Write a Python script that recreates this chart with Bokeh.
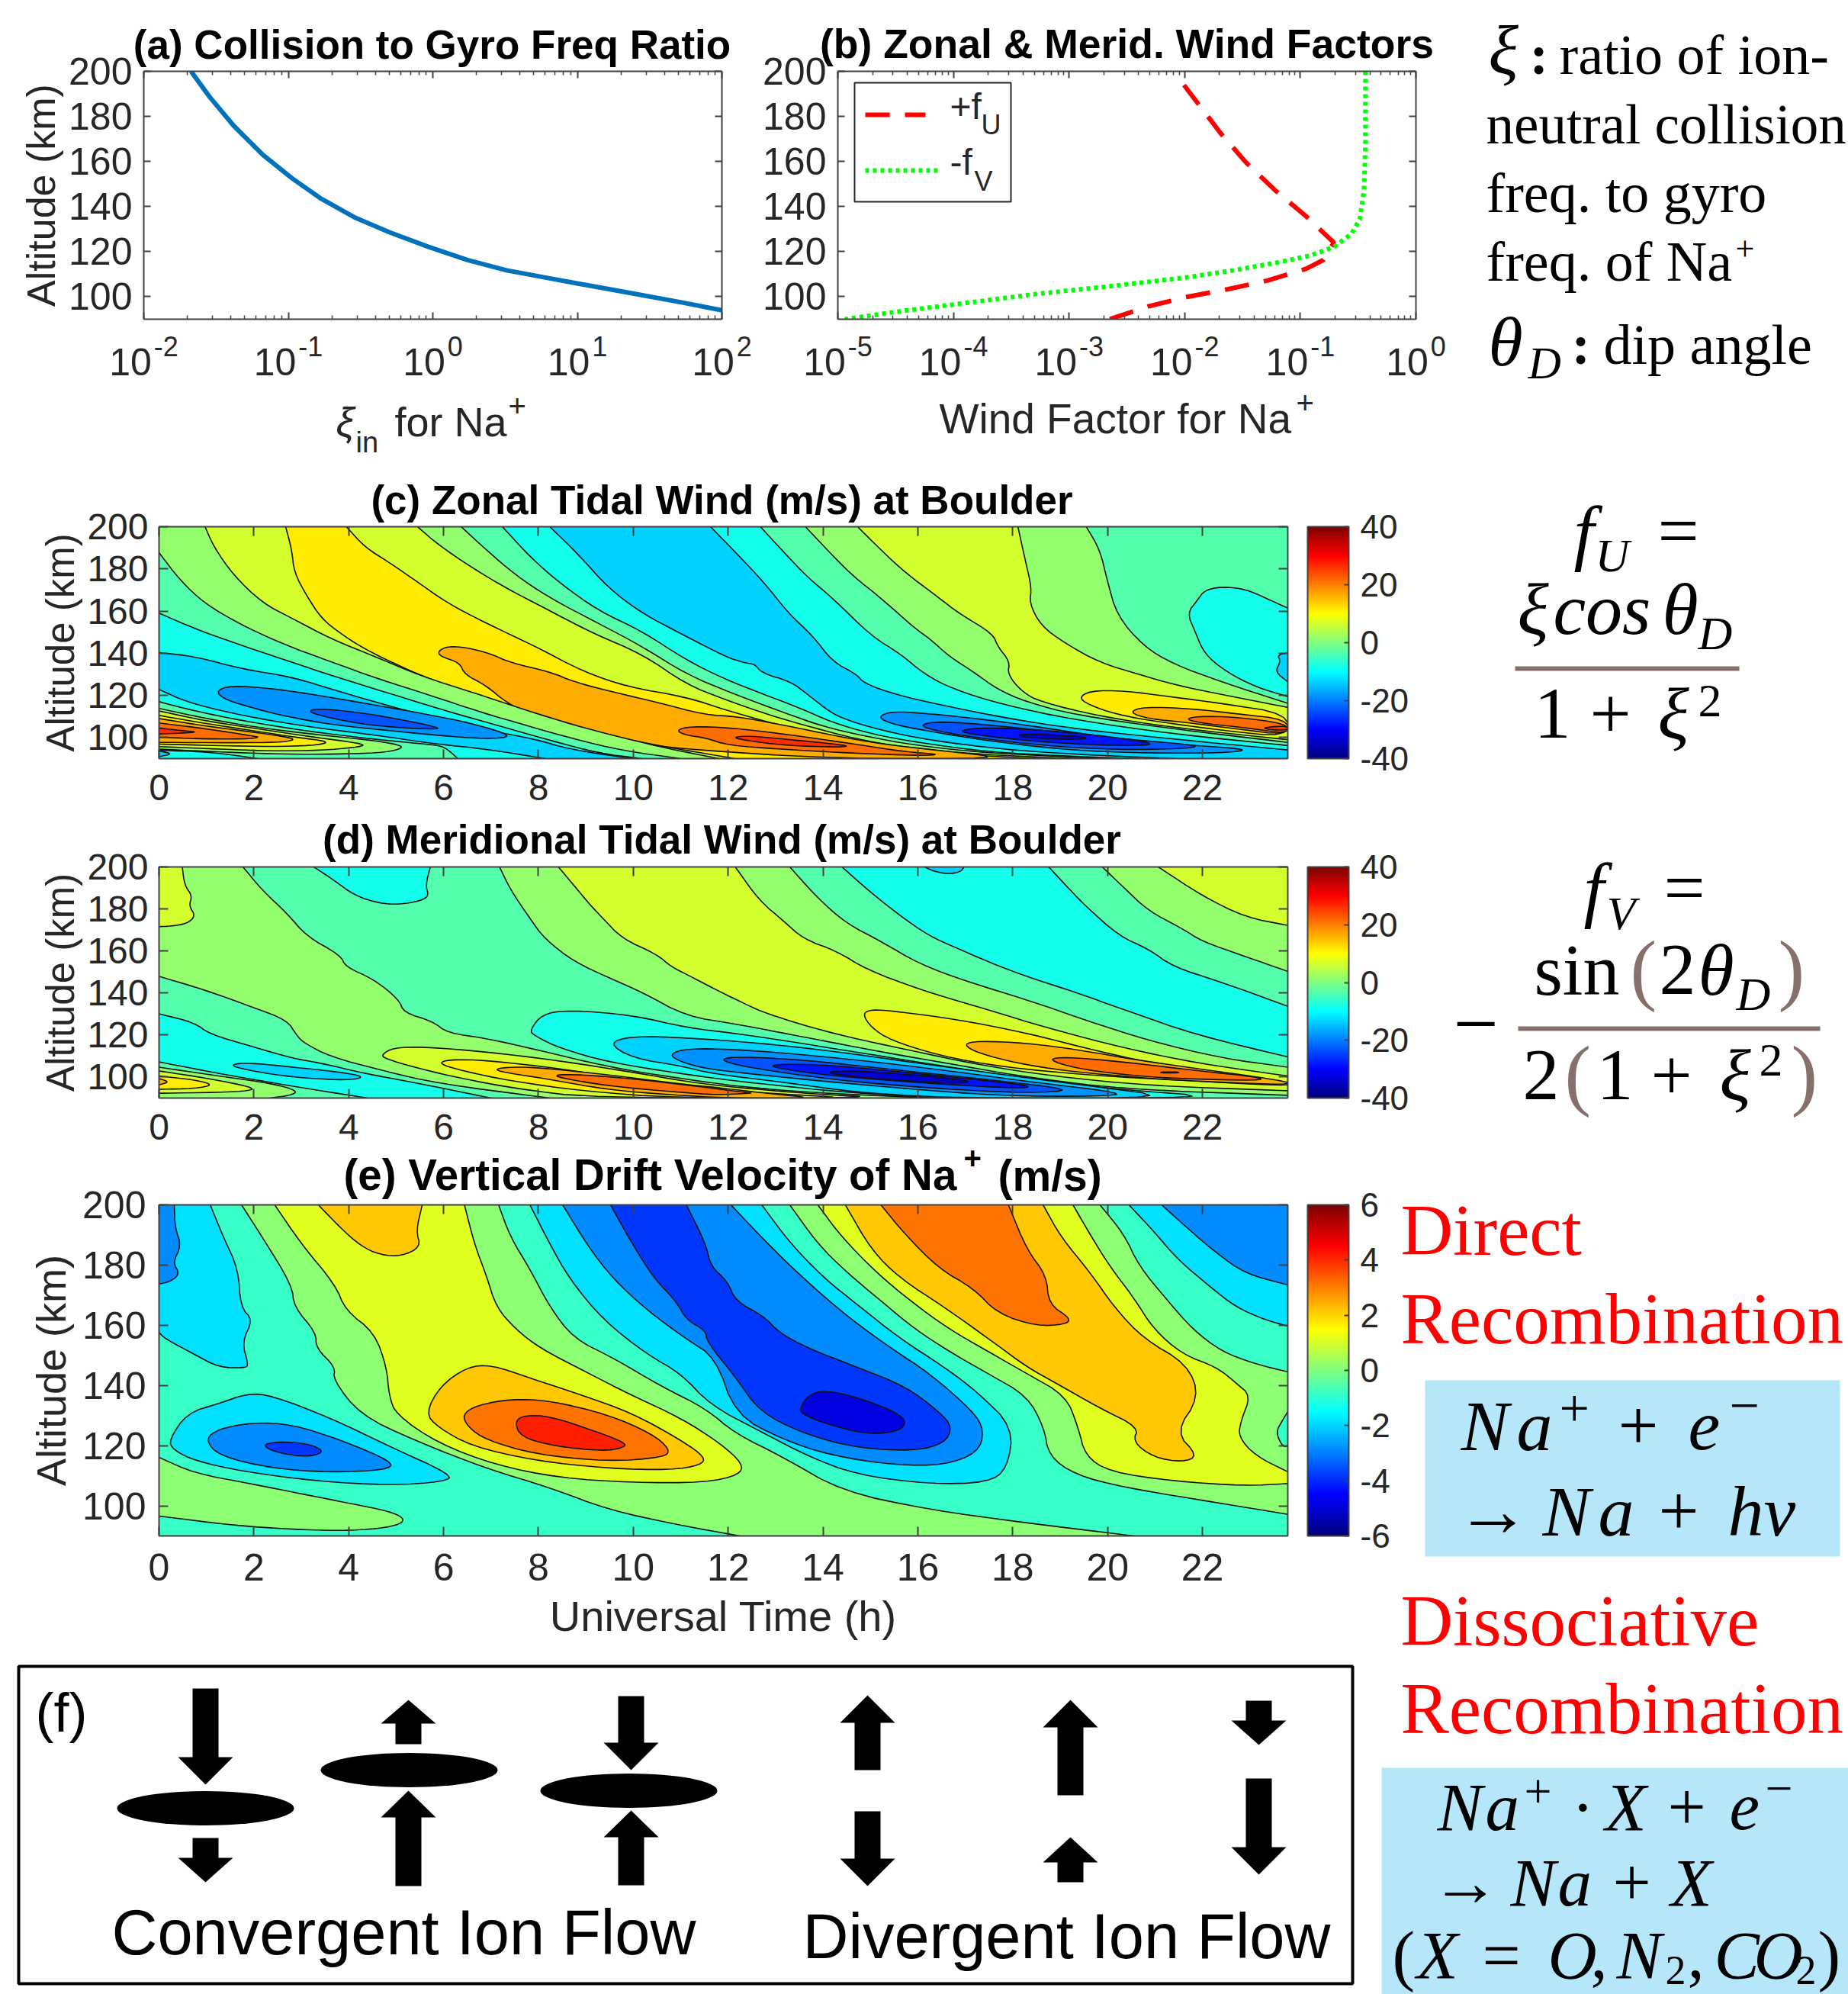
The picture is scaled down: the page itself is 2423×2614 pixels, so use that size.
from bokeh.embed import file_html
from bokeh.resources import INLINE
from bokeh.plotting import figure
from bokeh.layouts import row, column
from bokeh.core.properties import value
from bokeh.models import (Range1d, FixedTicker, LinearAxis, LogAxis, ColorBar,
                          LinearColorMapper, GridBox)

# ---------- data: panels (a), (b) ----------
xi_log10 = [-1.673,-1.545,-1.377,-1.175,-0.973,-0.771,-0.535,-0.3,-0.03,0.24,0.51,0.78,1.05,1.385,1.72,2.0]
xi_alt   = [200,188.7,175.8,162.9,152.5,143.4,135,128.6,122.1,116.3,111.7,108.5,105.3,101.4,97.5,94]
fu_log10 = [-2.006,-1.69,-1.47,-1.22,-0.95,-0.71,-0.80,-0.95,-1.28,-1.63,-1.99,-2.32,-2.65]
fu_alt   = [193.9,172.6,159.6,147.3,135.7,124,116.3,112.4,107.2,103.3,99.8,95.6,90]
fv_log10 = [-0.437,-0.437,-0.449,-0.485,-0.557,-0.707,-0.916,-1.216,-1.575,-1.994,-2.653,-3.25,-3.85,-4.45,-4.94]
fv_alt   = [200,166.7,147.3,134.4,127.9,122.1,118.2,115,111.7,108.5,104.6,101.4,97.5,93.6,90]
alt_ticks = [100,120,140,160,180,200]
hour_ticks = [0,2,4,6,8,10,12,14,16,18,20,22]

# ---------- data: iso-lines (c), (d), (e): hours, km ----------
# band centre values in m/s
NAVY,DEEP,BLUE,MID,SKY,CYAN,SPRG,GRN,YG,YEL,ORG,DK,RED = -32.5,-27.5,-22.5,-17.5,-12.5,-7.5,-2.5,2.5,7.5,12.5,17.5,22.5,27.5
ALL=[(23.8,90),(0,90),(0,200)]; LFT=[(0,90),(0,200)]; BL=[(0,90)]; TL=[(0,200)]

c_background = SPRG
c_contours = [
 (CYAN,[(23.8,161.4),(23.33,166.2),(22.91,170.4),(22.4,171.6),(22.04,169.8),(21.89,165),(21.68,159),(21.84,150.5),(22.04,139.7),(22.5,131.2),(23.12,124),(23.8,119.4)],[]),
 (SKY,[(23.8,140.3),(23.58,139.1),(23.65,136.1),(23.53,131.2),(23.8,126.4)],[]),
 (GRN,[(19.55,200),(19.84,189),(19.99,174.7),(20.2,157.8),(20.76,143.3),(21.38,134.9),(22.4,126.4),(23.8,116.2)],ALL),
 (YG,[(18.11,200),(18.25,185.5),(18.4,171),(18.35,163.8),(18.6,152.9),(19.12,144.5),(19.84,135.5),(20.66,130),(21.38,125.2),(22.4,120.4),(23.8,114.3)],ALL),
 (YEL,[(19.38,118.6),(19.63,122.2),(20.35,122.2),(21.38,119.2),(22.4,116.2),(23.8,111.3),(23.8,100.1),(22.4,103.5),(21.38,106.5),(20.35,110.1),(19.73,114.3)],[]),
 (ORG,[(20.45,112),(20.76,114.6),(21.78,113.7),(22.71,111.3),(23.8,108.6),(23.8,101.1),(22.71,104.1),(21.68,107.1),(20.86,108.9)],[]),
 (DK,[(21.63,108.6),(21.89,110.1),(22.71,109.8),(23.8,106.5),(23.8,101.7),(22.91,104.7),(22.09,106.5)],[]),
 (RED,[(23.27,104.5),(23.53,105.3),(23.8,105.3),(23.8,103.5),(23.43,103.7)],[]),
 (GRN,[(14.73,200),(15.22,189),(15.73,178.3),(16.45,166.2),(16.86,159),(17.58,149.3),(17.68,143.3),(17.94,136),(17.89,130),(18.2,121.6),(18.6,116.8),(19.84,110.1),(21.38,104.7),(23.8,99)],ALL),
 (SPRG,[(13.63,200),(14.09,189),(14.61,177),(15.22,166.2),(15.94,151.7),(16.25,146.9),(16.66,138.5),(17.17,131.2),(17.68,122.8),(18.3,116.8),(19.32,110.7),(21.38,104.1),(23.8,97.7)],ALL),
 (CYAN,[(12.68,200),(13.17,188),(13.68,175.9),(14.2,166.2),(15.02,148.1),(15.63,139.7),(16.14,130),(16.76,122.8),(17.79,115.6),(19.32,108.3),(21.38,101.7),(23.8,96.2)],ALL),
 (SKY,[(11.63,200),(12.15,188),(12.76,173.5),(13.27,159),(13.79,148.1),(14.2,136),(14.71,130),(14.86,125.8),(15.53,120.4),(16.45,115.6),(17.79,109.5),(19.32,104.1),(21.38,99.3),(23.8,94.1)],ALL),
 (MID,[(15.14,109.5),(15.43,112.5),(16.25,111.3),(17.27,108.9),(18.3,105.9),(19.84,100.5),(21.38,96.9),(23.07,94.4),(22.4,92.6),(20.86,92.6),(19.32,93.8),(17.79,97.5),(16.56,101.7),(15.53,105.9)],[]),
 (BLUE,[(15.99,105.3),(16.35,107.7),(17.27,106.5),(18.81,102.9),(20.35,99.3),(22.09,96),(21.38,94.4),(19.84,94.4),(18.3,96.9),(16.86,101.1)],[]),
 (DEEP,[(16.81,102.9),(17.27,104.7),(18.3,104.1),(19.84,101.1),(21.12,96.9),(20.35,96),(18.81,97.5),(17.48,100.5)],[]),
 (NAVY,[(18.09,102),(19.58,100.5),(19.48,98.9),(18.2,99.9)],[]),
 (CYAN,[(8.24,200),(8.85,186.7),(9.47,171),(10.18,159),(11,149.3),(11.93,138.5),(12.34,135.4),(12.56,134.9),(12.71,130.6),(13.33,126.4),(13.68,120.4),(14.15,112),(14.5,108.3),(15.22,103.5),(16.25,98.7),(17.79,94.4),(19.32,92),(21.48,90)],LFT),
 (SPRG,[(7.24,200),(7.83,185.5),(8.44,173.5),(9.26,160.2),(10.18,150.5),(11.12,136.7),(11.94,127.6),(12.76,120.4),(13.48,114.3),(14.2,107.1),(15.02,101.7),(16.04,97.5),(17.48,93.2),(19.12,91.2),(20.66,90)],LFT),
 (GRN,[(6.37,200),(6.9,189),(7.52,177),(8.24,166.2),(9.26,154.2),(10.18,143.3),(11.12,130),(12.15,120.4),(13.17,111.9),(13.99,105.3),(14.91,100.5),(15.94,96.3),(17.48,92.6),(19.94,90)],LFT),
 (YG,[(5.45,200),(5.88,191.6),(6.59,180.7),(7.31,171),(8.13,161.4),(9.16,149.3),(10.18,139.7),(11.12,125.2),(11.94,118),(12.86,110.7),(13.79,104.7),(14.71,99.3),(15.73,95.3),(17.27,92),(19.32,90)],LFT),
 (YEL,[(3.95,200),(4.34,190.3),(4.85,183.1),(5.47,173.5),(6.08,163.8),(6.9,154.2),(7.93,143.3),(8.95,131.2),(9.88,124),(11.12,119.2),(11.94,113.1),(12.97,106.5),(13.99,101.1),(15.22,95.6),(16.76,92),(18.6,90)],LFT),
 (ORG,[(5.88,140.9),(6.08,143.3),(6.49,142.7),(7,139.7),(7.41,135.5),(8.24,131.2),(8.75,126.4),(9.57,121.6),(10.49,116.8),(11.52,110.7),(12.15,110.1),(13.17,105.9),(14.2,101.1),(15.22,96.9),(16.45,93.9),(17.99,90),(14.2,90),(11.12,94.4),(9.98,97.5),(8.95,103.6),(7.93,109.5),(7.31,116.8),(6.9,124.6),(6.44,130),(6.34,135.5),(5.93,138.5)],[]),
 (DK,[(10.9,103.5),(11.21,105.3),(12.03,104.7),(13.17,101.7),(14.5,97.5),(15.73,93.2),(16.5,92),(16.04,91.4),(14.6,92.6),(13.17,94.4),(11.99,96.3),(11.52,99.9),(11.1,101.1)],[]),
 (RED,[(12.09,100.2),(12.45,100.8),(13.17,99.3),(14.55,96.3),(14.4,95.3),(13.17,96.3),(12.35,98.7)],[]),
 (YG,[(2.67,200),(2.8,189),(2.85,178.3),(3.11,167.4),(3.42,156.6),(3.83,149.3),(4.24,143.3),(4.75,137.3),(5.47,130),(6.39,121.6),(7.52,114.3),(8.44,107.1),(9.47,101.1),(10.49,96.3),(11.31,93.2),(12.15,90)],LFT),
 (GRN,[(0.97,200),(1.16,190.3),(1.57,177),(2.18,163.8),(2.8,156.6),(3.62,146.9),(4.54,138.5),(5.57,128.8),(6.59,121.6),(7.72,113.1),(8.75,105.9),(9.77,99.9),(10.8,94.4),(11.82,90)],LFT),
 (SPRG,[(0,187.7),(0.44,174.7),(0.95,163.8),(1.67,154.2),(2.59,144.5),(3.62,136),(4.65,127.6),(5.67,120.4),(6.8,111.9),(7.72,105.9),(8.75,99.3),(9.77,93.8),(11,90)],BL),
 (CYAN,[(0,159),(0.75,151.7),(1.57,145),(2.59,137.3),(3.72,128.8),(4.85,121),(5.98,113.1),(7.11,105.9),(8.24,98.7),(9.26,92.6),(10.18,90)],BL),
 (SKY,[(0,140.3),(0.75,138.5),(1.77,132.4),(2.8,128.8),(3.83,121.6),(4.85,115),(5.88,108.9),(6.9,103.5),(7.93,99.3),(8.65,94.4),(9.98,90)],BL),
 (MID,[(1.21,122.2),(1.5,124.6),(2.36,123.4),(3.43,119.8),(4.5,115.6),(5.57,111.4),(6.65,106.5),(7.5,100.5),(6.91,99.3),(5.84,101.1),(4.77,103.5),(3.7,105.9),(2.63,110.2),(1.82,115),(1.34,118.6)],[]),
 (BLUE,[(3.13,112.6),(3.38,113.8),(4.23,111.9),(5.31,107.7),(5.9,104.7),(5.84,103.9),(5.04,104.7),(4.23,106.5),(3.43,110.2)],[]),
 (CYAN,[(0,122.8),(0.59,116.8),(1.55,111.4),(2.63,106.9),(3.7,103.5),(4.77,100.5),(5.84,96.9),(6.91,94.5),(8.15,90)],BL),
 (SPRG,[(0,117),(0.75,112.6),(1.82,107.7),(3.16,102.9),(4.5,99.3),(5.31,97.5),(5.9,96.3),(6.08,94.5),(6.3,90)],BL),
 (CYAN,[(0,93.9),(1.02,93.3),(2.09,90)],BL),
 (SKY,[(0,93.6),(0.29,92.3),(0,90.9)],[]),
 (GRN,[(0,113.8),(1.02,108.9),(2.09,104.7),(3.43,101.1),(4.5,98.7),(5.12,96.3),(5.09,94.5),(4.66,92.7),(3.7,92.1),(2.63,92.1),(1.55,92.9),(0,94.5)],[]),
 (YG,[(0,112.6),(1.02,107.7),(2.09,104.1),(3.16,100.5),(3.97,98.1),(4.37,96.5),(4.13,95.3),(3.43,93.9),(2.36,93.6),(1.29,94.5),(0,95.7)],[]),
 (YEL,[(0,110.5),(1.02,106.5),(2.09,102.9),(2.89,100.1),(3.59,98.1),(3.38,96.5),(2.63,95.7),(1.55,96),(0,96.9)],[]),
 (ORG,[(0,109),(1.02,105.3),(2.09,102.3),(2.79,99.9),(2.84,98.7),(2.52,97.7),(1.55,97.5),(0,97.7)],[]),
 (DK,[(0,106.9),(1.02,104.1),(1.93,100.9),(2.14,100.1),(1.82,99.3),(1.02,99.3),(0,100.1)],[]),
 (RED,[(0,104.5),(0.48,103.3),(0.83,102.6),(0.48,102.1),(0,101.7)],[]),
]

d_background = YG
d_contours = [
 (GRN,[(21.07,200),(21.99,186.3),(22.91,176),(23.8,172.2)],ALL),
 (SPRG,[(19.89,200),(20.35,190),(20.86,179.1),(21.58,170.6),(21.99,164.6),(22.91,157.3),(23.8,150.3)],ALL),
 (CYAN,[(18.76,200),(19.12,191.2),(19.53,181.5),(20.25,167),(20.86,161),(21.38,152.5),(22.4,145.2),(23.8,133.7)],ALL),
 (SKY,[(16.14,200),(16.35,197.8),(16.66,196.6),(16.91,197.8),(16.97,200)],[]),
 (SPRG,[(14.4,200),(15.02,187.6),(15.63,176.7),(16.25,167),(16.86,161),(17.48,154.9),(18.3,147.7),(19.32,140.4),(20.35,132),(21.89,119.9),(23.8,109.6)],ALL),
 (GRN,[(13.3,200),(13.89,185.1),(14.5,173),(15.22,164.6),(16.04,153.7),(17.07,145.2),(18.3,136.8),(19.53,127.1),(20.86,117.4),(22.4,109),(23.8,104.7)],ALL),
 (YG,[(12.15,200),(12.66,183.9),(13.17,174.3),(13.58,165.8),(14.3,159.8),(14.91,151.3),(16.04,141.6),(17.48,132),(18.71,123.5),(20.35,113.8),(21.89,106.6),(23.8,100.5)],ALL),
 (YEL,[(14.83,130.1),(15.02,132.2),(15.53,131.3),(16.76,127.7),(18.3,121),(19.84,112),(21.38,104.7),(23.8,97.5),(23.8,95.7),(21.38,98.7),(19.84,100.5),(17.79,104.7),(16.45,110.2),(15.43,117.5),(15.02,123.5)],[]),
 (ORG,[(16.95,115.6),(17.27,117.2),(18.3,116.2),(19.32,113.2),(20.86,107.2),(23.8,98.1),(23.8,96.3),(22.4,97.5),(20.86,99.3),(19.12,102.9),(18.09,106.6),(17.27,111.4)],[]),
 (DK,[(18.73,108.4),(19.12,109.6),(20.35,107.2),(21.89,103),(23.22,99.9),(23.24,98.3),(21.38,99.3),(20.35,101.1),(19.32,104.2)],[]),
 (RED,[(21.12,102.4),(21.5,102.4),(21.5,102),(21.12,102)],[]),
 (GRN,[(8.42,200),(8.75,191.2),(9.06,182.7),(9.36,175.5),(9.77,165.8),(10.49,158.5),(10.8,152.5),(11.12,148.9),(11.74,141.6),(12.45,133.8),(12.76,130.7),(13.58,124.7),(14.5,119.2),(15.73,113.2),(17.27,105.9),(18.81,100.5),(20.86,95.9),(23.8,93.5)],ALL),
 (SPRG,[(7.18,200),(7.42,188.8),(7.82,175.5),(8.13,165.8),(8.75,154.9),(9.57,146.4),(10.18,140.4),(11.12,128.9),(12.15,125.3),(13.68,118.7),(15.22,112),(16.76,106),(18.3,99.9),(20.35,94.2),(23.8,91.3)],ALL),
 (CYAN,[(3.26,200),(3.62,194.8),(4.13,186.3),(4.65,182.7),(5.06,182.1),(5.52,183.9),(5.69,186.3),(5.62,191.2),(5.72,200)],[]),
 (CYAN,[(7.82,122.3),(8.08,130),(8.65,131.9),(9.98,129.5),(11.12,123.5),(12.15,120.8),(13.17,117.4),(14.71,111.8),(16.25,106.3),(17.79,100.9),(19.84,94.8),(22.71,90),(16.45,90),(15.73,90.9),(14.2,93.3),(13.17,95.7),(12.15,98.1),(11,101.6),(9.47,107.1),(8.44,113.8),(7.9,119.9)],[]),
 (SKY,[(9.47,116.2),(9.98,119.5),(11.12,118.7),(12.66,116.2),(14.2,112.4),(15.73,107.5),(17.27,102.7),(19.32,96.7),(21.58,90),(17.27,90),(16.04,90.9),(14.71,92.7),(13.17,97.5),(11.63,101.7),(11,105.3),(9.98,109)],[]),
 (MID,[(10.75,110.8),(11.12,113.6),(12.15,113.2),(13.68,110.5),(15.22,106.9),(16.76,102.7),(18.3,97.9),(20.4,92.3),(19.84,90.8),(17.79,91),(15.73,94.5),(13.68,98.7),(12.15,102.3),(11.52,104.1),(11,107.2)],[]),
 (BLUE,[(11.79,108.4),(12.25,109.8),(13.68,108),(15.22,104.2),(17.27,99.3),(19.38,93.9),(18.3,92.3),(16.25,94.7),(14.2,98.7),(12.35,104.8)],[]),
 (DEEP,[(12.86,104.8),(13.07,106.3),(14.2,105.6),(15.73,102.3),(17.27,98.7),(18.4,95.9),(18.2,94.5),(16.25,96.9),(14.2,100.5)],[]),
 (NAVY,[(14.04,102.3),(14.5,103.2),(15.73,101.5),(17.12,98.3),(16.97,96.9),(15.73,98.1),(14.5,100.5)],[]),
 (GRN,[(1.77,200),(2.18,188.8),(2.7,177.9),(3.11,167),(3.83,157.9),(3.93,152.5),(4.54,146.4),(5.06,136.8),(5.16,130.7),(5.77,126.5),(6.08,121),(6.9,118.4),(7.93,113.2),(9.47,104.8),(11,99.3),(12.15,95.7),(13.68,92.7),(16.25,90)],LFT),
 (YG,[(0.49,200),(0.54,191.2),(0.7,186.3),(0.63,181.5),(0.77,176.7),(0.59,173),(0.24,171.8),(0,171.6)],TL),
 (YG,[(4.7,110.8),(4.95,114),(5.57,114.4),(6.9,112),(8.44,107.8),(9.98,102.3),(11.21,97.5),(12.15,95.1),(13.68,92.1),(15.43,90),(9.16,90),(7.52,94.5),(6.39,99.3),(5.47,104.1),(4.75,108.9)],[]),
 (YEL,[(5.88,106.5),(6.13,108.4),(6.9,108),(8.44,104.1),(9.98,98.7),(11.21,94.5),(12.15,93.3),(13.48,91.5),(14.63,90),(10.9,90),(8.95,93.3),(7.42,98.1),(6.39,103)],[]),
 (ORG,[(7.06,103.5),(7.31,104.7),(7.93,104.7),(9.47,101.1),(11,96.7),(11.74,95.1),(12.86,92.1),(13.89,90),(12.03,90),(10.8,91.5),(9.47,93.9),(8.13,99.3),(7.42,101.7)],[]),
 (DK,[(8.24,100.5),(8.65,101.5),(9.98,99.3),(11.52,95.1),(12.44,92.5),(12.5,92.3),(11.74,91.5),(11,92.7),(9.47,95.7)],[]),
 (SPRG,[(0,147.9),(0.95,141.6),(1.98,133.2),(2.7,127.1),(2.9,119.9),(3.06,116.2),(3.62,109.6),(4.75,102.9),(5.88,96.9),(8.24,90)],BL),
 (CYAN,[(0,130.1),(0.75,125.9),(1.06,120.5),(1.98,114.4),(2.8,109),(3.42,106.6),(4.34,101.7),(5.36,97.5),(7,90)],BL),
 (SKY,[(1.52,106),(1.88,106.8),(2.8,104.8),(3.83,102.3),(4.29,100.5),(4.18,98.9),(3.62,98.7),(2.59,100.5),(1.67,104.2)],[]),
 (SPRG,[(0,107.2),(1.26,101.7),(2.8,95.7),(4.39,90)],BL),
 (GRN,[(0,104.7),(1.26,100.5),(2.39,96.9),(2.92,93.5),(2.8,91.4),(2.34,90)],BL),
 (YG,[(0,102.9),(1.06,99.3),(1.98,95.1),(1.93,93.5),(1.26,92.7),(0,92.3)],[]),
 (YEL,[(0,100.5),(0.75,98.7),(1.16,96.3),(0.75,94.5),(0,94.2)],[]),
 (ORG,[(0,99.3),(0.22,97.7),(0,96.3)],[]),
]

# panel (e) bands, m/s
E_NAVY,E_BLUE,E_MID,E_SKY,E_SPRG,E_GRN,E_YG,E_ORG,E_DK,E_RED = -5,-4,-3,-2,-1,0,1,2,3,4
e_background = E_MID
e_contours = [
 (E_SKY,[(21.14,200),(21.68,192.3),(22.3,183.9),(22.91,177.1),(23.8,173.4)],ALL),
 (E_SPRG,[(20.45,200),(20.97,191.3),(21.48,181.8),(22.2,172.3),(22.71,166),(23.32,161.8),(23.8,159.7)],ALL),
 (E_GRN,[(19.84,200),(20.35,190.2),(20.66,179.7),(21.27,168.1),(21.79,158.7),(22.4,151.3),(23.12,147.1),(23.8,144.5)],ALL),
 (E_SPRG,[(23.8,131.3),(23.68,128.2),(23.55,124.5),(23.68,119.8),(23.8,119.8)],[]),
 (E_YG,[(19.27,200),(19.63,190.2),(20.04,179.7),(20.55,169.2),(20.97,158.7),(21.58,150.3),(22.3,146.1),(22.71,140.8),(23.02,136.6),(22.81,128.2),(22.76,122.9),(23.12,116.6),(23.8,111.3)],ALL),
 (E_ORG,[(14.47,200),(15.02,185),(15.63,175.5),(16.56,166),(17.58,154.5),(18.3,146.1),(18.91,140.8),(19.84,132.4),(20.66,126.1),(20.53,121.3),(20.97,116.1),(21.58,114.5),(21.91,116.6),(21.43,124.5),(21.94,136.1),(21.68,147.1),(20.76,155.5),(20.14,166),(19.63,177.6),(19.02,189.2),(18.64,200)],[]),
 (E_DK,[(15.22,200),(15.73,190.2),(16.45,178.7),(17.17,172.3),(17.68,163.9),(18.5,159.7),(19.12,160.3),(19.22,162.3),(18.76,167),(18.71,176.6),(18.3,185),(17.91,200)],[]),
 (E_GRN,[(13.89,200),(14.4,189.2),(15.12,177.6),(15.84,168.1),(16.66,158.7),(17.48,151.3),(18.3,143.9),(19.12,136.6),(19.38,126.1),(19.53,116.6),(20.04,111.3),(21.38,108.2),(22.91,106.6),(23.8,107.4)],ALL),
 (E_SPRG,[(13.3,200),(13.89,187),(14.5,177.6),(15.22,168.1),(15.94,158.7),(16.66,151.3),(17.48,143.9),(18.3,136.6),(18.66,126.1),(18.76,116.6),(19.32,110.3),(20.35,106.1),(22.4,100.8),(23.8,97.2)],ALL),
 (E_SKY,[(7.82,200),(8.24,187),(8.65,175.5),(9.36,161.8),(10.29,150.3),(11,144),(11.63,133.4),(12.66,124.9),(13.68,116.5),(14.71,110.3),(16.25,107.2),(17.48,107.7),(17.89,112.4),(18.01,126.1),(17.27,137.6),(16.56,146.1),(15.63,155.5),(14.71,167),(13.99,176.1),(13.27,188),(12.71,200)],[]),
 (E_MID,[(8.51,200),(9.06,185.9),(9.57,175.5),(10.29,165),(11.11,155.5),(11.74,149.2),(12.15,130.3),(13.17,121.9),(14.2,116.6),(15.53,113.5),(16.56,113.5),(17.27,117.7),(17.4,125),(17.17,131.3),(16.25,144),(15.43,152.4),(14.61,161.8),(13.89,171.3),(13.17,181.8),(12.45,193.4),(12.06,200)],[]),
 (E_BLUE,[(9.52,200),(9.98,187),(10.44,175.5),(10.9,168.1),(11.12,161.8),(11.53,158.2),(11.55,154.5),(12.15,142.9),(12.66,131.3),(13.58,124),(14.71,119.2),(15.94,118.2),(16.56,120.8),(16.73,126.1),(16.45,131.3),(15.73,139.8),(14.71,146.1),(13.68,152.4),(13.07,157.6),(12.76,162.9),(12.15,168.1),(11.99,174.5),(11.63,179.7),(11.53,187),(11.12,200)],[]),
 (E_NAVY,[(13.5,132.4),(13.74,137.6),(14.2,138.2),(15.02,134.5),(15.63,130.3),(15.76,127.1),(15.53,124.5),(14.91,123.8),(14.09,127.1),(13.58,130.3)],[]),
 (E_GRN,[(7.16,200),(7.41,189.2),(7.82,178.7),(8.24,166),(8.75,155.5),(9.57,149.2),(10.59,139.7),(11.52,132.4),(12.15,124),(13.17,116.1),(14.4,104.8),(16.25,98.7),(18.3,94.3),(20.55,90)],LFT),
 (E_YG,[(2.44,200),(3,187),(3.72,173.4),(3.93,165),(4.54,157.6),(4.8,146.1),(4.85,136.6),(5,130.3),(5.88,120.8),(7.11,113.5),(8.44,109.3),(9.98,107.7),(11.52,107.7),(12.24,110.3),(12.31,114),(11.83,120.8),(11,129.2),(9.98,136.6),(9.06,144),(8.03,152.4),(7.52,158.7),(7.11,166),(6.9,176.6),(6.65,187),(6.44,200)],[]),
 (E_ORG,[(3.36,200),(3.83,192.3),(4.24,186.5),(4.65,183.4),(5.11,182.9),(5.52,186),(5.42,191.3),(5.55,200)],[]),
 (E_ORG,[(5.62,130.8),(5.93,139.8),(6.49,146.1),(7,146.9),(7.83,142.4),(8.95,136.6),(9.98,130.8),(11,121.9),(11.52,116.1),(11.42,113.5),(10.8,111.9),(9.47,112.4),(7.93,115),(6.59,119.8),(5.88,126.1)],[]),
 (E_DK,[(6.39,130.3),(6.7,133.4),(7.41,135.5),(8.24,135),(9.47,130.3),(10.39,124),(10.78,118.7),(10.65,116.1),(9.47,114.7),(7.93,117.1),(6.9,121.9),(6.52,126.1)],[]),
 (E_RED,[(7.5,128.2),(7.72,130.1),(8.24,129.8),(9.16,125),(9.86,120.8),(9.77,119.2),(9.36,118.2),(8.34,119.8),(7.62,122.9)],[]),
 (E_SPRG,[(1.74,200),(2.18,189.2),(2.8,173.4),(2.85,166),(3.31,157.6),(3.31,152.4),(3.72,146.1),(3.67,141.9),(4.24,130.3),(5.36,121.9),(6.9,112.4),(8.24,106.1),(9.47,98.7),(11,93.5),(12.24,90)],LFT),
 (E_GRN,[(0,116.1),(0.75,110.8),(1.98,107.2),(3,104),(4.03,100.8),(4.85,98.2),(5.16,96),(5.11,94),(4.65,92.4),(3.83,91.7),(2.8,92.2),(1.57,93.5),(0,96.6)],[]),
 (E_SKY,[(1.08,200),(1.36,189.2),(1.67,178.7),(1.72,166),(1.98,161.8),(1.75,154.5),(1.88,147.1),(1.83,145.8),(1.26,146),(0.75,150.3),(0.13,155.5),(0,157.6)],TL),
 (E_MID,[(0.32,200),(0.34,192.3),(0.47,186.5),(0.29,180.8),(0.44,177.1),(0.24,174.5),(0,173.7)],TL),
 (E_SKY,[(0.21,121.9),(0.59,130.8),(1.26,134),(1.88,137.4),(2.39,136.6),(3.62,129.2),(4.85,119.8),(6.18,110.3),(6.03,108),(4.85,106.8),(3.31,108.2),(1.77,111.4),(0.75,115),(0.29,118.7)],[]),
 (E_MID,[(0.97,122.1),(1.26,125.6),(1.98,127.7),(2.8,127.1),(3.83,121.9),(4.95,114.5),(4.8,111.9),(3.62,111.1),(2.39,112.4),(1.26,116.6)],[]),
 (E_BLUE,[(2.18,120.3),(2.49,121.3),(3.11,120.8),(3.5,118.2),(3.21,116.4),(2.8,116.8),(2.39,118.2)],[]),
]

# panel (f): layers and arrows (x, tail, head base, tip)
ion_layers_x = [269, 536, 824]
ion_layers_y = [2370, 2320, 2347]
ion_arrows = [(269,2213,2303,2339),(269,2409,2435,2467),(535,2286,2259,2228),(535,2472,2382,2347),
              (827,2223,2284,2320),(827,2471,2408,2373),(1137,2320,2258,2222),(1137,2374,2436,2472),
              (1403,2353,2264,2228),(1403,2467,2441,2408),(1650,2229,2255,2287),(1650,2331,2421,2457)]

# ---------- helpers ----------
SANS, SERIF = "Liberation Sans", "Liberation Serif"
INK, FRAME = "#262626", "#404040"
PAGE_W, PAGE_H = 2423, 2614
BASE_SHIFT = 0.33   # alphabetic text lands this many em low in the svg output

def jet(v, vmax=40.0):
    t = (v + vmax) / (2 * vmax)
    ch = lambda k: max(0.0, min(1.0, 1.5 - abs(4 * t - k)))
    return "#%02x%02x%02x" % (round(255*ch(3)), round(255*ch(2)), round(255*ch(1)))

JET = [jet(-40 + 80 * i / 255) for i in range(256)]

def round_corners(pts, loop):
    """Round the corners of a traced iso-line when it is drawn; end points stay where they are."""
    for _ in range(2):
        src = pts + pts[:1] if loop else pts
        out = [] if loop else [src[0]]
        for (x0, y0), (x1, y1) in zip(src[:-1], src[1:]):
            out.append((0.75*x0 + 0.25*x1, 0.75*y0 + 0.25*y1))
            out.append((0.25*x0 + 0.75*x1, 0.25*y0 + 0.75*y1))
        if not loop:
            out.append(src[-1])
        pts = out
    return pts

# transparent sheet over the whole page for every text outside the frames
ov = figure(width=PAGE_W, height=PAGE_H, x_range=Range1d(0, PAGE_W), y_range=Range1d(PAGE_H, 0),
            x_axis_type=None, y_axis_type=None, toolbar_location=None, output_backend="svg",
            min_border=0, outline_line_color=None, background_fill_color=None, border_fill_color=None)
ov.grid.visible = False
TEXTS = []

def T(x, y, text, size, font=SANS, style="normal", color=INK, align="left"):
    TEXTS.append((x, y, text, size, font, style, color, align))

def make_fig(box, frame, **kw):
    X0, Y0, X1, Y1 = box
    fx0, fy0, fx1, fy1 = frame
    p = figure(width=X1-X0, height=Y1-Y0, toolbar_location=None, output_backend="svg",
               min_border_left=fx0-X0, min_border_top=fy0-Y0,
               min_border_right=X1-fx1, min_border_bottom=Y1-fy1,
               outline_line_color=None, **kw)
    p.grid.visible = False
    return p

def style_axis(ax, size, tick=12):
    ax.axis_line_color = FRAME; ax.axis_line_width = 2
    ax.major_tick_line_color = FRAME; ax.major_tick_line_width = 2
    ax.major_tick_in = tick; ax.major_tick_out = 0
    ax.minor_tick_line_color = None
    ax.major_label_text_font = SANS
    ax.major_label_text_font_size = f"{max(size, 1)}px"
    ax.major_label_text_color = INK
    if size == 0:
        ax.major_label_text_alpha = 0
        ax.major_label_standoff = 0
    ax.axis_label_text_font = SANS
    ax.axis_label_text_font_style = "normal"
    ax.axis_label_text_color = INK

def contour_panel(box, frame, regions, background, tick_size, ylabel_size, ystandoff,
                  xstandoff, ystand, cb_ticks, cb_low, cb_high, colour):
    p = make_fig(box, frame, x_range=Range1d(0, 23.8), y_range=Range1d(90, 200))
    p.background_fill_color = colour(background)
    xa, ya = p.xaxis[0], p.yaxis[0]
    for ax in (xa, ya):
        style_axis(ax, tick_size)
    xa.ticker = FixedTicker(ticks=hour_ticks)
    ya.ticker = FixedTicker(ticks=alt_ticks)
    xa.major_label_standoff = xstandoff
    ya.major_label_standoff = ystand
    ya.axis_label = "Altitude (km)"
    ya.axis_label_text_font_size = f"{ylabel_size}px"
    ya.axis_label_standoff = ystandoff
    top = LinearAxis(ticker=FixedTicker(ticks=hour_ticks)); style_axis(top, 0)
    right = LinearAxis(ticker=FixedTicker(ticks=alt_ticks)); style_axis(right, 0)
    p.add_layout(top, "above"); p.add_layout(right, "right")
    for band, pts, close in regions:
        interior = 0 < pts[0][0] < 23.8 and 90 < pts[0][1] < 200
        curve = round_corners(pts, interior)
        xs = [q[0] for q in curve]; ys = [q[1] for q in curve]
        p.patch(xs + [q[0] for q in close], ys + [q[1] for q in close],
                fill_color=colour(band), line_color=None)
        p.line(xs + xs[:1] if interior else xs, ys + ys[:1] if interior else ys,
               line_color="#101010", line_width=1.6, line_join="round")
    fx0, fy0, fx1, fy1 = frame
    cb = ColorBar(color_mapper=LinearColorMapper(palette=JET, low=cb_low, high=cb_high),
                  ticker=FixedTicker(ticks=cb_ticks), location=(1714 - fx0, 0),
                  width=54, height=fy1 - fy0, padding=0, margin=0,
                  major_label_text_font=SANS, major_label_text_font_size="44px",
                  major_label_text_color=INK, major_label_overrides={t: str(t) for t in cb_ticks},
                  major_tick_line_color=FRAME, major_tick_line_width=2, major_tick_in=6,
                  bar_line_color=FRAME, bar_line_width=2, label_standoff=15,
                  background_fill_alpha=0, border_line_color=None)
    p.add_layout(cb)
    return p

def log_panel(box, frame, xlo, xhi, decades):
    p = make_fig(box, frame, x_axis_type="log", x_range=Range1d(10.0**xlo, 10.0**xhi), y_range=Range1d(90, 200))
    minors = [m * 10.0**d for d in decades[:-1] for m in range(2, 10)]
    tick = FixedTicker(ticks=[10.0**d for d in decades], minor_ticks=minors)
    xa, ya = p.xaxis[0], p.yaxis[0]
    style_axis(xa, 0, 9); style_axis(ya, 50, 9)
    xa.ticker = tick; ya.ticker = FixedTicker(ticks=alt_ticks); ya.major_label_standoff = 15
    top = LogAxis(ticker=tick); style_axis(top, 0, 9)
    right = LinearAxis(ticker=FixedTicker(ticks=alt_ticks)); style_axis(right, 0, 9)
    for a in (xa, top):
        a.minor_tick_line_color = FRAME; a.minor_tick_line_width = 1.5
        a.minor_tick_in = 5; a.minor_tick_out = 0
    p.add_layout(top, "above"); p.add_layout(right, "right")
    fx0, fy0, fx1, fy1 = frame
    for d in decades:
        sx = fx0 + (d - xlo) / (xhi - xlo) * (fx1 - fx0)
        es = str(d)
        ew = sum(0.333 if c == "-" else 0.556 for c in es) * 36
        left = sx - (1.112 * 50 + 3 + ew) / 2
        T(left, 490, "10", 50)
        T(left + 1.112 * 50 + 3, 465, es, 36)
    return p

# ---------- panels ----------
fa = (188, 93, 946, 418)
pa = log_panel((0, 0, 990, 600), fa, -2, 2, [-2, -1, 0, 1, 2])
pa.line([10.0**v for v in xi_log10], xi_alt, line_color="#0072BD", line_width=6, line_join="round")
pa.yaxis[0].axis_label = "Altitude (km)"
pa.yaxis[0].axis_label_text_font_size = "52px"
pa.yaxis[0].axis_label_standoff = 4
T(566, 75, "(a) Collision to Gyro Freq Ratio", 53, style="bold", color="black", align="center")
T(440, 570, "ξ", 54, style="italic")
T(466, 592, "in", 38)
T(517, 570, "for Na", 54)
T(666, 545, "+", 40)

fb = (1098, 93, 1856, 418)
pb = log_panel((990, 0, 1900, 600), fb, -5, 0, [-5, -4, -3, -2, -1, 0])
pb.line([10.0**v for v in fu_log10], fu_alt, line_color="#FF0000", line_width=6, line_dash="32 20")
pb.line([10.0**v for v in fv_log10], fv_alt, line_color="#00FF00", line_width=6, line_dash="5 5")
T(1477, 75, "(b) Zonal & Merid. Wind Factors", 53.5, style="bold", color="black", align="center")
T(1231, 567, "Wind Factor for Na", 55)
T(1699, 541, "+", 40)
def b_x(px): return 10.0 ** (-5 + (px - 1098) / 151.6)
def b_y(px): return 200 - (px - 93) / 2.9545
pb.quad(left=[b_x(1120)], right=[b_x(1325)], top=[b_y(108)], bottom=[b_y(264)],
        fill_color="white", line_color="#262626", line_width=2)
pb.line([b_x(1134), b_x(1213)], [b_y(150)] * 2, line_color="#FF0000", line_width=6, line_dash="32 20")
pb.line([b_x(1134), b_x(1234)], [b_y(223)] * 2, line_color="#00FF00", line_width=6, line_dash="5 5")
T(1245, 155, "+f", 48); T(1286, 175, "U", 36)
T(1245, 228, "-f", 48); T(1277, 249, "V", 36)

cband = lambda v: jet(v - 1)
eband = lambda v: jet(v * 40 / 6 + 1)
pc = contour_panel((0, 600, 1860, 1060), (208, 690, 1688, 994), c_contours, c_background,
                   48, 51, 3, 21, 14, [-40, -20, 0, 20, 40], -40, 40, cband)
pd = contour_panel((0, 1060, 1860, 1505), (208, 1136, 1688, 1439), d_contours, d_background,
                   48, 51, 3, 21, 14, [-40, -20, 0, 20, 40], -40, 40, cband)
pe = contour_panel((0, 1505, 1860, 2160), (208, 1579, 1688, 2013), e_contours, e_background,
                   50, 54, 8, 23, 17, [-6, -4, -2, 0, 2, 4, 6], -6, 6, eband)
pe.below[0].axis_label = "Universal Time (h)"
pe.below[0].axis_label_text_font_size = "56px"
pe.below[0].axis_label_standoff = 12
T(946, 672, "(c) Zonal Tidal Wind (m/s) at Boulder", 53, style="bold", color="black", align="center")
T(946, 1117, "(d) Meridional Tidal Wind (m/s) at Boulder", 53, style="bold", color="black", align="center")
T(450, 1559, "(e) Vertical Drift Velocity of Na", 56.5, style="bold", color="black")
T(1263, 1531, "+", 40, style="bold", color="black")
T(1308, 1559, "(m/s)", 57, style="bold", color="black")

# ---------- definitions and equations on the sheet ----------
for x, y, s, size, st in [
    (1951, 96, "ξ", 92, "italic"), (2005, 96, ":", 74, "bold"), (2044, 96, "ratio of ion-", 74, "normal"),
    (1948, 187, "neutral collision", 73, "normal"), (1948, 277, "freq. to gyro", 74, "normal"),
    (1948, 367, "freq. of Na", 74, "normal"), (2275, 341, "+", 44, "normal"),
    (1951, 478, "θ", 92, "italic"), (2003, 495, "D", 60, "italic"), (2060, 476, ":", 74, "bold"),
    (2102, 476, "dip angle", 74, "normal")]:
    T(x, y, s, size, font=SERIF, style=st, color="black")

RULE = "#87706B"
ov.quad(left=[1986, 1990], right=[2280, 2386], top=[873, 1345], bottom=[879, 1351], fill_color=RULE, line_color=None)
MATH = 96
for x, y, s, size, st, col in [
    (2063, 729, "f", MATH, "italic", "black"), (2091, 748, "U", 62, "italic", "black"), (2173, 727, "=", MATH, "normal", "black"),
    (1989, 830, "ξ", MATH, "italic", "black"), (2036, 830, "cos", MATH, "italic", "black"), (2179, 830, "θ", MATH, "italic", "black"),
    (2226, 850, "D", 62, "italic", "black"),
    (2011, 967, "1", MATH, "normal", "black"), (2084, 967, "+", MATH, "normal", "black"), (2173, 967, "ξ", MATH, "italic", "black"),
    (2226, 939, "2", 62, "normal", "black"),
    (2076, 1197, "f", MATH, "italic", "black"), (2106, 1217, "V", 62, "italic", "black"), (2181, 1195, "=", MATH, "normal", "black"),
    (2011, 1303, "sin", MATH, "normal", "black"), (2137, 1303, "(", 104, "normal", RULE), (2175, 1303, "2", MATH, "normal", "black"),
    (2226, 1303, "θ", MATH, "italic", "black"), (2276, 1323, "D", 62, "italic", "black"), (2331, 1303, ")", 104, "normal", RULE),
    (1905, 1376, "−", 105, "normal", "black"),
    (1996, 1441, "2", MATH, "normal", "black"), (2051, 1441, "(", 104, "normal", RULE), (2093, 1441, "1", MATH, "normal", "black"),
    (2164, 1441, "+", MATH, "normal", "black"), (2254, 1441, "ξ", MATH, "italic", "black"), (2306, 1410, "2", 62, "normal", "black"),
    (2348, 1441, ")", 104, "normal", RULE)]:
    T(x, y, s, size, font=SERIF, style=st, color=col)

BOX = "#B5E6FA"
ov.quad(left=[1868, 1811], right=[2412, 2423], top=[1809, 2317], bottom=[2040, 2614], fill_color=BOX, line_color=None)
for y, s in [(1644, "Direct"), (1760, "Recombination"), (2156, "Dissociative"), (2271, "Recombination")]:
    T(1836, y, s, 95, font=SERIF, color="#FF0000")
for x, y, s, size, st in [
    (1915, 1900, "N", 94, "italic"), (1988, 1900, "a", 94, "italic"), (2044, 1870, "+", 70, "normal"),
    (2121, 1900, "+", 94, "normal"), (2213, 1900, "e", 94, "italic"), (2267, 1866, "−", 70, "normal"),
    (1908, 2012, "→", 98, "normal"), (2022, 2012, "N", 94, "italic"), (2095, 2012, "a", 94, "italic"),
    (2174, 2012, "+", 94, "normal"), (2265, 2012, "h", 94, "italic"), (2312, 2012, "v", 94, "italic"),
    (1884, 2398, "N", 89, "italic"), (1947, 2398, "a", 89, "italic"), (1998, 2370, "+", 64, "normal"),
    (2060, 2398, "·", 89, "normal"), (2104, 2398, "X", 89, "italic"), (2186, 2398, "+", 89, "normal"),
    (2267, 2398, "e", 89, "italic"), (2314, 2366, "−", 64, "normal"),
    (1876, 2497, "→", 90, "normal"), (1980, 2497, "N", 89, "italic"), (2042, 2497, "a", 89, "italic"),
    (2114, 2497, "+", 89, "normal"), (2190, 2497, "X", 89, "italic"),
    (1825, 2592, "(", 89, "normal"), (1857, 2592, "X", 89, "italic"), (1943, 2592, "=", 89, "normal"),
    (2029, 2592, "O", 89, "italic"), (2085, 2592, ",", 89, "normal"), (2119, 2592, "N", 89, "italic"),
    (2183, 2600, "2", 54, "normal"), (2212, 2592, ",", 89, "normal"), (2247, 2592, "C", 89, "italic"),
    (2299, 2592, "O", 89, "italic"), (2354, 2600, "2", 54, "normal"), (2383, 2592, ")", 89, "normal")]:
    T(x, y, s, size, font=SERIF, style=st, color="black")

# panel (f)
ov.quad(left=[24], right=[1773], top=[2184], bottom=[2600], fill_color=None, line_color="black", line_width=4)
ov.ellipse(ion_layers_x, ion_layers_y, width=232, height=45, fill_color="black", line_color=None)
ov.patches([[x-17,x+17,x+17,x+36,x,x-36,x-17] for x,a,b,c in ion_arrows],
           [[a,a,b,b,c,b,b] for x,a,b,c in ion_arrows], fill_color="black", line_color=None)
T(46, 2268, "(f)", 72, color="black")
T(146, 2560, "Convergent Ion Flow", 83, color="black")
T(1052, 2565, "Divergent Ion Flow", 83, color="black")

for x, y, s, size, font, st, col, al in TEXTS:
    ov.text(x=[x], y=[y - BASE_SHIFT * size], text=[s], text_font=value(font), text_font_size=value(f"{size}px"),
            text_font_style=value(st), text_color=col, text_align=value(al), text_baseline=value("alphabetic"))

base = column(row(pa, pb), pc, pd, pe)
page = GridBox(children=[(base, 0, 0), (ov, 0, 0)])
open("out.html", "w").write(file_html(page, INLINE))
